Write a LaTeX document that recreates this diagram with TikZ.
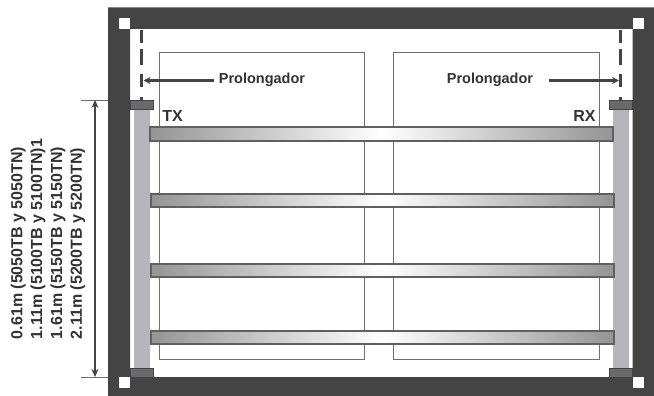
\documentclass[tikz,border=0pt]{standalone}
\usepackage{fontspec}
\setmainfont{Liberation Sans}
\usetikzlibrary{arrows.meta}
\definecolor{framec}{HTML}{444444}
\definecolor{blockc}{HTML}{6A6A6C}
\definecolor{colc}{HTML}{B6B6BA}
\definecolor{linec}{HTML}{6E6E6E}
\definecolor{txtc}{HTML}{333333}
\tikzset{
  framefill/.style={fill=framec,draw=none},
  corner/.style={fill=white,draw=none},
  panel/.style={draw=linec,line width=0.9pt,fill=white},
  column/.style={fill=colc,draw=none},
  block/.style={fill=blockc,draw=framec,line width=0.7pt},
  railbar/.style={left color=black!42,right color=black!42,middle color=white,draw=framec!85,line width=2pt},
  dashline/.style={draw=framec,line width=3pt,dash pattern=on 13pt off 6pt on 16pt off 9pt on 13pt off 10pt on 3pt off 10pt},
  arrowline/.style={draw=framec,line width=2.2pt,-{Stealth[length=7pt,width=7pt]}},
  dimline/.style={draw=framec,line width=1.7pt,{Stealth[length=8pt,width=7pt]}-{Stealth[length=8pt,width=7pt]}},
  extline/.style={draw=linec,line width=0.8pt},
  lab/.style={text=txtc,font=\bfseries\fontsize{14.5}{14.5}\selectfont,inner sep=0pt},
  txrx/.style={text=txtc,font=\bfseries\fontsize{16}{16}\selectfont,inner sep=0pt},
  dimlab/.style={text=txtc,font=\bfseries\fontsize{16}{19.8}\selectfont,inner sep=0pt,rotate=90,align=left}
}
\begin{document}
\begin{tikzpicture}[x=1pt,y=-1pt]
\useasboundingbox (0,0) rectangle (654,396);
\fill[white] (0,0) rectangle (654,396);
% frame
\fill[framefill,even odd rule] (108,7.5) rectangle (654,396) (130,29) rectangle (632.5,377);
\fill[corner] (119,18) rectangle (130,29);
\fill[corner] (632.5,18) rectangle (643.5,29);
\fill[corner] (119,377) rectangle (130,388);
\fill[corner] (632.5,377) rectangle (643.5,388);
% panels
\draw[panel] (159,52) rectangle (364.5,359);
\draw[panel] (393.5,52) rectangle (599,359);
% columns
\fill[column] (134,109) rectangle (150,368);
\fill[column] (613,109) rectangle (629,368);
\draw[block] (130.5,100) rectangle (153.5,109);
\draw[block] (609,100) rectangle (632,109);
\draw[block] (130.5,368.5) rectangle (153.5,377);
\draw[block] (609,368.5) rectangle (632,377);
% dashed lines
\coordinate (dl1) at (141.5,30); \coordinate (dl2) at (141.5,100);
\coordinate (dr1) at (620.5,30); \coordinate (dr2) at (620.5,100);
\draw[dashline] (dl1) -- (dl2);
\draw[dashline] (dr1) -- (dr2);
% bars
\shade[railbar] (149.5,127.5) rectangle (612.5,141);
\shade[railbar] (150.5,193.5) rectangle (614,207);
\shade[railbar] (150.5,263.5) rectangle (614,277);
\shade[railbar] (150.5,330.5) rectangle (614,343.5);
% labels
\node[lab] (pl) at (262,80) {Prolongador};
\node[lab] (pr) at (490,80) {Prolongador};
\coordinate (al) at (143.5,80.5);
\coordinate (ar) at (619,80.5);
\draw[arrowline] (pl.west |- al) ++(-5,0) coordinate (als) -- (al);
\draw[arrowline] (pr.east |- ar) ++(16,0) coordinate (ars) -- (ar);
\node[txrx] (tx) at (172.5,115.5) {TX};
\node[txrx] (rx) at (584.5,115.5) {RX};
% dimension
\coordinate (dt) at (95,100); \coordinate (db) at (95,377);
\coordinate (e1) at (81,100); \coordinate (e2) at (108,100);
\coordinate (e3) at (81,377); \coordinate (e4) at (108,377);
\draw[extline] (e1) -- (e2);
\draw[extline] (e3) -- (e4);
\draw[dimline] (dt) -- (db);
\node[dimlab] (dim) at (48,239) {0.61m (5050TB y 5050TN)\\1.11m (5100TB y 5100TN)1\\1.61m (5150TB y 5150TN)\\2.11m (5200TB y 5200TN)};
\end{tikzpicture}
\end{document}
